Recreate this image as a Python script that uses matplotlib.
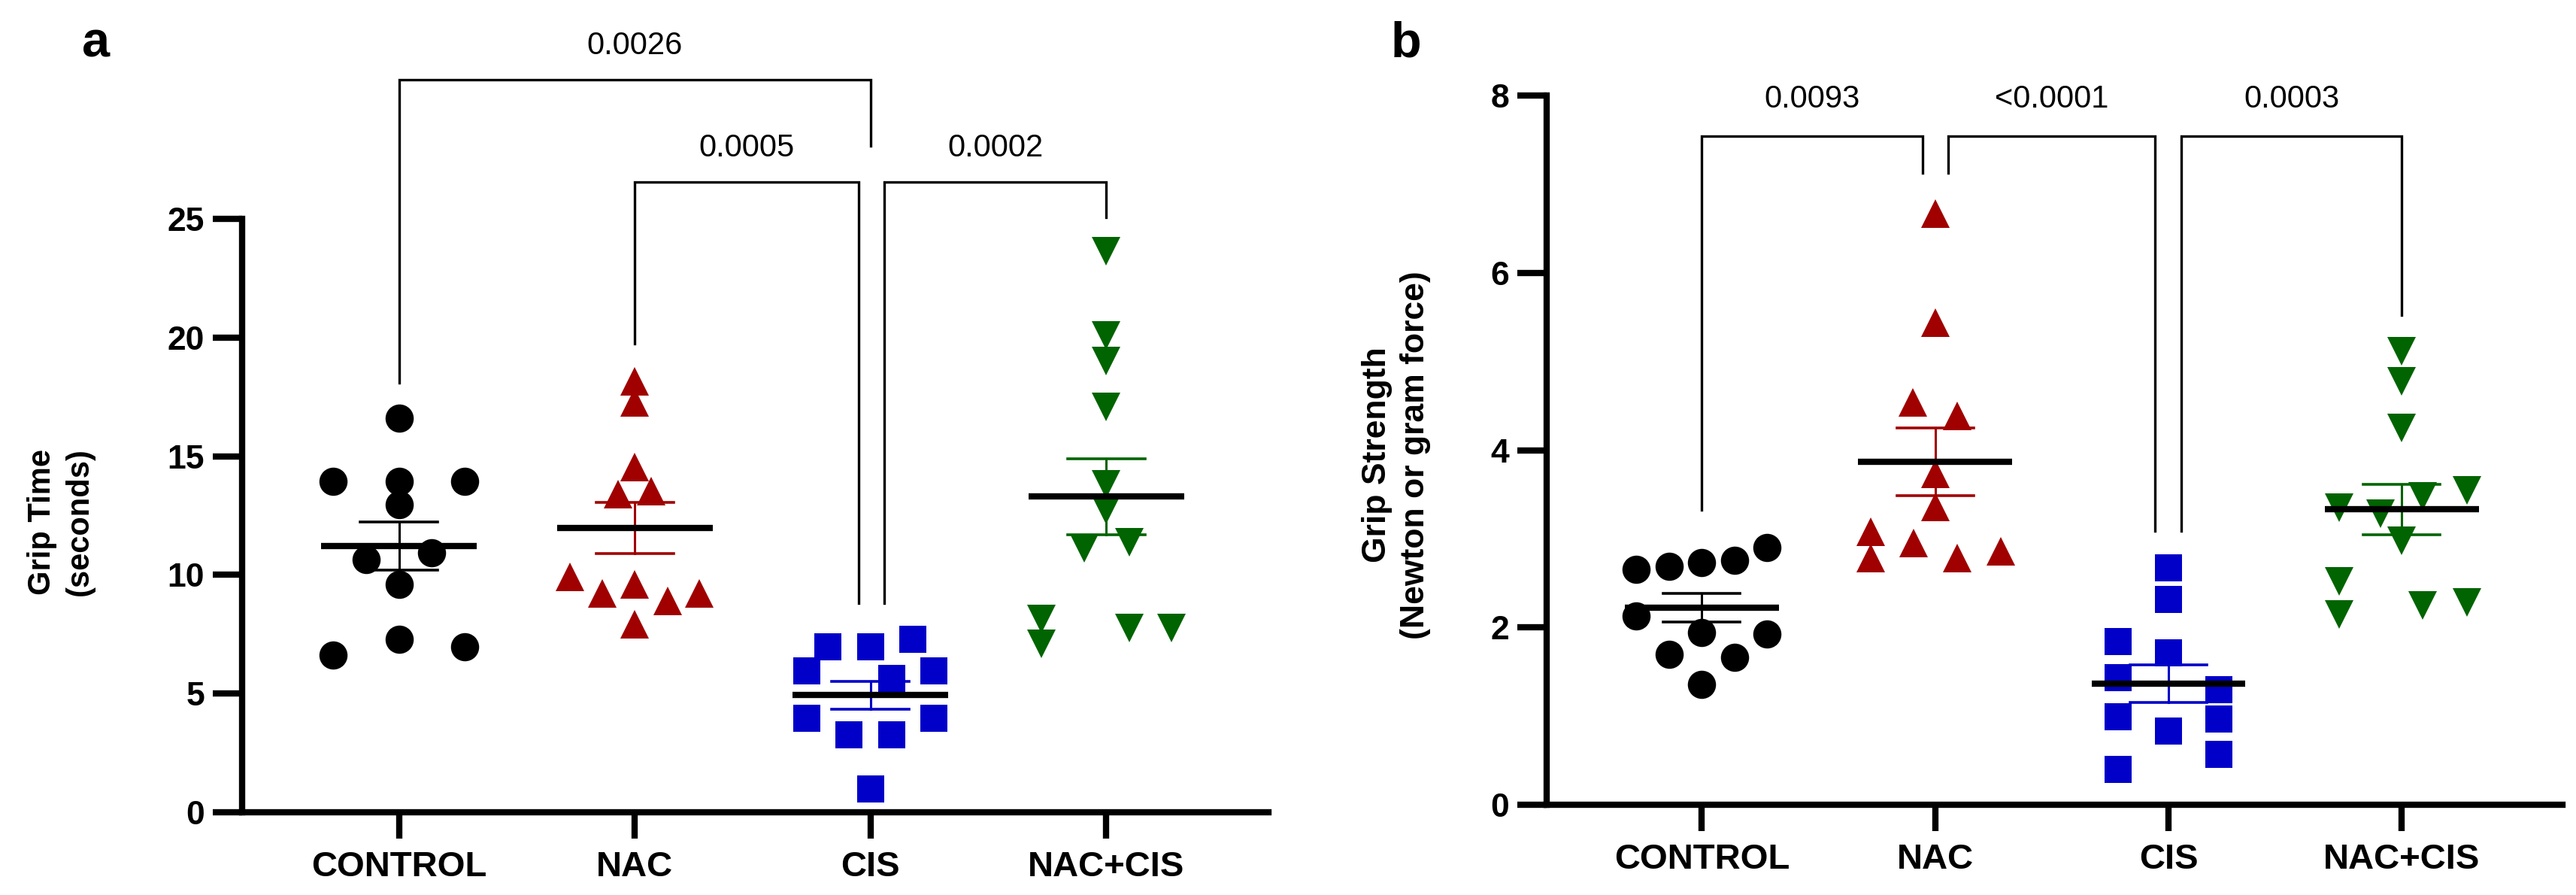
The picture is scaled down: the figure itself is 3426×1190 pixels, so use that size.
import numpy as np
import matplotlib
matplotlib.use("Agg")
import matplotlib.pyplot as plt

plt.rcParams['font.family'] = ['Liberation Sans', 'DejaVu Sans']

groups = ['CONTROL', 'NAC', 'CIS', 'NAC+CIS']

# panel a : grip time (seconds)
time_control = [16.62, 13.95, 13.95, 13.95, 12.96, 10.65, 10.93, 9.60, 7.29, 6.97, 6.61]
time_nac = [18.16, 17.27, 14.54, 13.42, 13.54, 9.92, 9.23, 9.60, 8.92, 9.23, 7.91]
time_cis = [6.96, 6.96, 7.29, 5.97, 5.97, 5.65, 3.96, 3.96, 3.27, 3.27, 0.97]
time_naccis = [23.64, 20.08, 19.02, 17.07, 13.83, 12.74, 11.13, 11.37, 8.13, 7.09, 7.77, 7.77]

# panel b : grip strength (newton or gram force)
force_control = [2.66, 2.69, 2.73, 2.76, 2.90, 2.13, 1.94, 1.93, 1.70, 1.66, 1.36]
force_nac = [6.67, 5.44, 4.54, 4.39, 3.73, 3.36, 3.08, 2.95, 2.78, 2.78, 2.86]
force_cis = [2.67, 2.32, 1.84, 1.71, 1.43, 1.30, 0.99, 0.97, 0.83, 0.57, 0.40]
force_naccis = [5.12, 4.78, 4.25, 3.55, 3.48, 3.35, 3.28, 2.98, 2.52, 2.15, 2.25, 2.28]

pvals_a = ['0.0026', '0.0005', '0.0002']
pvals_b = ['0.0093', '<0.0001', '0.0003']

# ---- layout / style ----
markers = ['o', '^', 's', 'v']
colors = ['black', '#A00000', '#0000C8', '#006400']
msize = [27, 27, 26, 27]

# horizontal scatter of the points (category units), as in the prism layout
jit_a = [
    [0, -.28, 0, .28, 0, -.14, .14, 0, 0, .28, -.28],
    [0, 0, 0, -.07, .07, -.275, -.137, 0, .14, .275, 0],
    [-.18, 0, .18, -.27, .27, .09, -.27, .27, -.09, .09, 0],
    [0, 0, 0, 0, 0, 0, -.094, .098, -.275, -.275, .098, .278],
]
jit_b = [
    [-.28, -.14, 0, .14, .28, -.28, 0, .28, -.14, .14, 0],
    [0, 0, -.095, .095, 0, 0, -.275, -.093, -.275, .093, .28],
    [0, 0, -.216, 0, -.216, .216, -.216, .216, 0, .216, -.216],
    [0, 0, 0, .28, .088, -.27, -.09, 0, -.27, -.27, .088, .28],
]

# brackets: x left, x right, top, left foot, right foot, label y
brk_a = [(0, 2.0, 30.86, 18.09, 28.09, 32.29),
         (1, 1.95, 26.57, 19.74, 8.80, 27.98),
         (2.06, 3, 26.57, 8.80, 25.08, 27.98)]
brk_b = [(0, 0.945, 7.54, 3.33, 7.13, 7.96),
         (1.057, 1.943, 7.54, 7.13, 3.09, 7.96),
         (2.056, 3, 7.54, 3.09, 5.52, 7.96)]


def panel(ax, data, jit, brk, pvals, ymax, ystep):
    for i, vals in enumerate(data):
        vals = np.array(vals)
        x = i + np.array(jit[i])
        ax.plot(x, vals, linestyle='none', marker=markers[i], ms=msize[i],
                color=colors[i], mew=0, zorder=2, clip_on=False)
        m = vals.mean()
        se = vals.std(ddof=1) / np.sqrt(len(vals))
        ax.plot([i, i], [m - se, m + se], color=colors[i], lw=2.2, zorder=3)
        for yy in (m - se, m + se):
            ax.plot([i - .164, i + .164], [yy, yy], color=colors[i], lw=2.6, zorder=3)
        ax.plot([i - .33, i + .33], [m, m], color='black', lw=6,
                solid_capstyle='butt', zorder=4)

    for (x1, x2, top, f1, f2, ty), p in zip(brk, pvals):
        ax.plot([x1, x1, x2, x2], [f1, top, top, f2], color='black', lw=2.4,
                clip_on=False, solid_joinstyle='miter')
        ax.text((x1 + x2) / 2, ty, p, ha='center', va='center', fontsize=30,
                clip_on=False)

    ax.set_xlim(-0.665, 3.688)
    ax.set_ylim(0, ymax)
    ax.set_yticks(np.arange(0, ymax + 0.01, ystep))
    ax.set_xticks(range(len(groups)))
    ax.set_xticklabels(groups, fontweight='bold', fontsize=34)
    for lab in ax.get_yticklabels():
        lab.set_fontweight('bold')
        lab.set_fontsize(32)
    ax.spines['top'].set_visible(False)
    ax.spines['right'].set_visible(False)
    ax.spines['left'].set_linewidth(6)
    ax.spines['bottom'].set_linewidth(6)
    ax.tick_params(axis='y', length=28, width=6, pad=8)
    ax.tick_params(axis='x', length=25, width=6, pad=12)


fig = plt.figure(figsize=(34.26, 11.90), dpi=100)
ax1 = fig.add_axes([0.0940, 0.0924, 0.3984, 0.6630])
ax2 = fig.add_axes([0.6004, 0.1008, 0.3943, 0.7924])

panel(ax1, [time_control, time_nac, time_cis, time_naccis], jit_a, brk_a, pvals_a, 25, 5)
panel(ax2, [force_control, force_nac, force_cis, force_naccis], jit_b, brk_b, pvals_b, 8, 2)

fig.text(0.0236, 0.4168, 'Grip Time\n(seconds)', rotation=90, ha='center', va='center',
         fontsize=30, fontweight='bold', linespacing=1.3)
fig.text(0.5420, 0.4916, 'Grip Strength\n(Newton or gram force)', rotation=90,
         ha='center', va='center', fontsize=32, fontweight='bold', linespacing=1.3)

fig.text(109 / 3426, 1 - 76 / 1190, 'a', fontsize=48, fontweight='bold', va='baseline')
fig.text(1850 / 3426, 1 - 76 / 1190, 'b', fontsize=48, fontweight='bold', va='baseline')

fig.savefig('out.png', dpi=100)
